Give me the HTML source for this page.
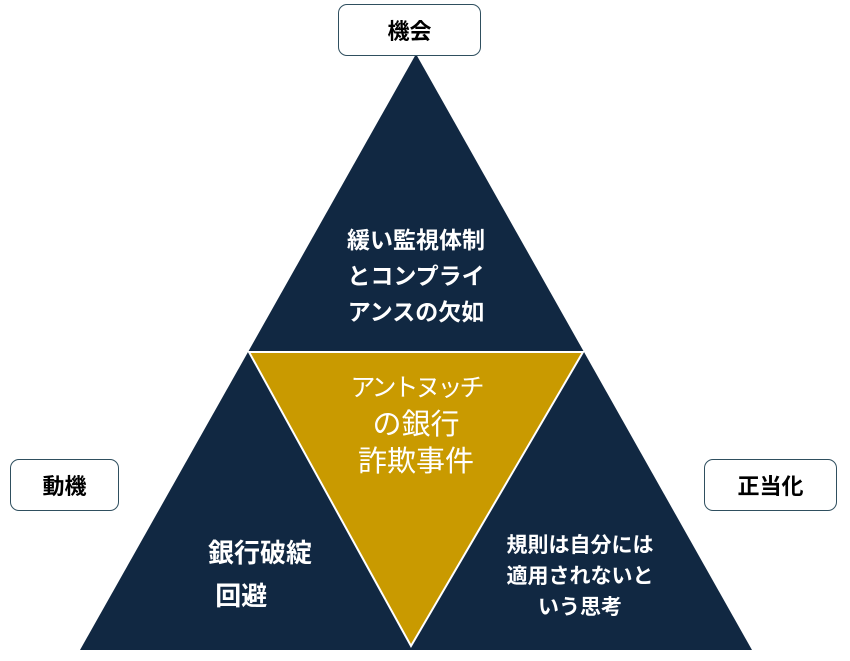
<!DOCTYPE html>
<html><head><meta charset="utf-8"><style>
body{margin:0;width:850px;height:661px;background:#fff;overflow:hidden;position:relative;font-family:"Liberation Sans","Noto Sans CJK JP",sans-serif}
.box{position:absolute;border:1.5px solid #2f4f5f;border-radius:9px;background:#fff;display:flex;align-items:center;justify-content:center;font-size:22px;font-weight:bold;color:#000;box-sizing:border-box}
.t{position:absolute;color:#fff;text-align:center;white-space:nowrap}
</style></head><body>
<svg width="850" height="661" style="position:absolute;left:0;top:0">
<polygon points="416,54 80,650 752,650" fill="#112842"/>
<polygon points="249,352 583,352 411,646" fill="#c99a00" stroke="#fff" stroke-width="2"/>
</svg>
<div class="box" style="left:338px;top:4px;width:143px;height:52px">機会</div>
<div class="box" style="left:10px;top:459px;width:109px;height:52px">動機</div>
<div class="box" style="left:704px;top:459px;width:133px;height:52px">正当化</div>
<div class="t" style="left:266px;top:222px;width:300px;font-size:23px;font-weight:bold;line-height:36px">緩い監視体制<br>とコンプライ<br>アンスの欠如</div>
<div class="t" style="left:266px;top:369px;width:300px;font-size:29px;line-height:37px"><span style="font-size:25px;letter-spacing:-3px">アントヌッチ</span><br>の銀行<br>詐欺事件</div>
<div class="t" style="left:208px;top:532px;width:130px;font-size:26px;font-weight:bold;line-height:43px;text-align:left">銀行破綻<br>&nbsp;回避</div>
<div class="t" style="left:430px;top:530px;width:300px;font-size:21px;font-weight:bold;line-height:31px">規則は自分には<br>適用されないと<br>いう思考</div>
</body></html>
